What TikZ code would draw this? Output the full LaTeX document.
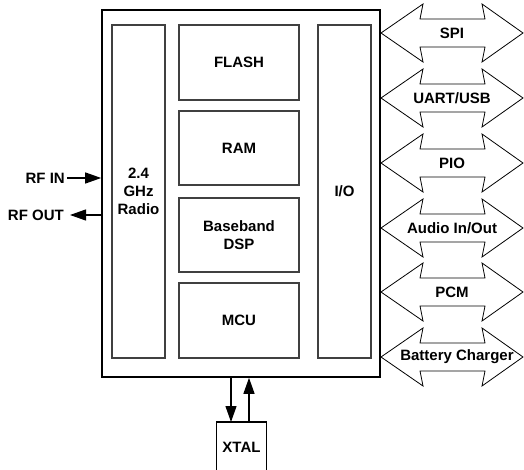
\documentclass[tikz,border=0pt]{standalone}
\usepackage{fontspec}
\setmainfont{Liberation Sans}
\usetikzlibrary{arrows.meta}
\newcommand\busarrow[3]{%
  \draw[bus] (381,#2) -- (423,#2-29) -- (420,#2-14) -- (485,#2-14) -- (482,#2-29) -- (523,#2)
    -- (482,#2+29) -- (485,#2+14) -- (420,#2+14) -- (423,#2+29) -- cycle;
  \node (#1) at (452,#2) {#3};}
\begin{document}
\begin{tikzpicture}[x=1bp,y=-1bp,
  every node/.style={font=\fontsize{15bp}{18bp}\selectfont\bfseries, align=center},
  chipbox/.style={draw=black, line width=1.6bp, inner sep=0pt},
  blk/.style={draw=black!75, line width=1.1bp, inner sep=0pt},
  arr/.style={line width=1.2bp, -{Triangle[length=16bp,width=11bp]}},
  bus/.style={draw=black, line width=0.8bp, fill=white}]
\useasboundingbox (0,0) rectangle (524,470);
% main chip
\node[chipbox, minimum width=278bp, minimum height=367bp] (chip) at (241,193.5) {};
\node[blk, minimum width=53bp, minimum height=333bp] (radio) at (138.5,191.5) {2.4\\GHz\\Radio};
\node[blk, minimum width=120bp, minimum height=75bp] (flash) at (239,62.5) {FLASH};
\node[blk, minimum width=120bp, minimum height=74bp] (ram) at (239,148) {RAM};
\node[blk, minimum width=120bp, minimum height=74bp] (bb) at (239,235) {Baseband\\DSP};
\node[blk, minimum width=120bp, minimum height=75bp] (mcu) at (239,320.5) {MCU};
\node[blk, minimum width=53bp, minimum height=333bp] (io) at (344.5,191.5) {I/O};
% RF
\node[anchor=east, inner sep=2bp] (rfin) at (67,178) {RF IN};
\node[anchor=east, inner sep=2bp] (rfout) at (66,215) {RF OUT};
\draw[arr] (rfin.east) -- (rfin.east -| chip.west);
\draw[arr] (rfout.east -| chip.west) -- ([xshift=4bp]rfout.east);
% XTAL
\node[minimum width=49bp, minimum height=50bp, anchor=north, inner sep=0pt] (xtal) at (241.5,422) {XTAL};
\draw[line width=1.2bp] (xtal.south west) -- (xtal.north west) -- (xtal.north east) -- (xtal.south east);
\coordinate (xd) at ([xshift=-10.5bp]xtal.north);
\coordinate (xu) at ([xshift=7.5bp]xtal.north);
\draw[arr] (xd |- chip.south) -- (xd);
\draw[arr] (xu) -- (xu |- chip.south);
% buses
\busarrow{spi}{33}{SPI}
\busarrow{uart}{98}{UART/USB}
\busarrow{pio}{163}{PIO}
\busarrow{audio}{228}{Audio In/Out}
\busarrow{pcm}{292}{PCM}
\draw[bus] (381,357) -- (423,328) -- (420,343) -- (485,343) -- (482,328) -- (523,357)
    -- (482,386) -- (485,371) -- (420,371) -- (423,386) -- cycle;
\node (batt) at (457,357) {Battery Charger};
\end{tikzpicture}
\end{document}
